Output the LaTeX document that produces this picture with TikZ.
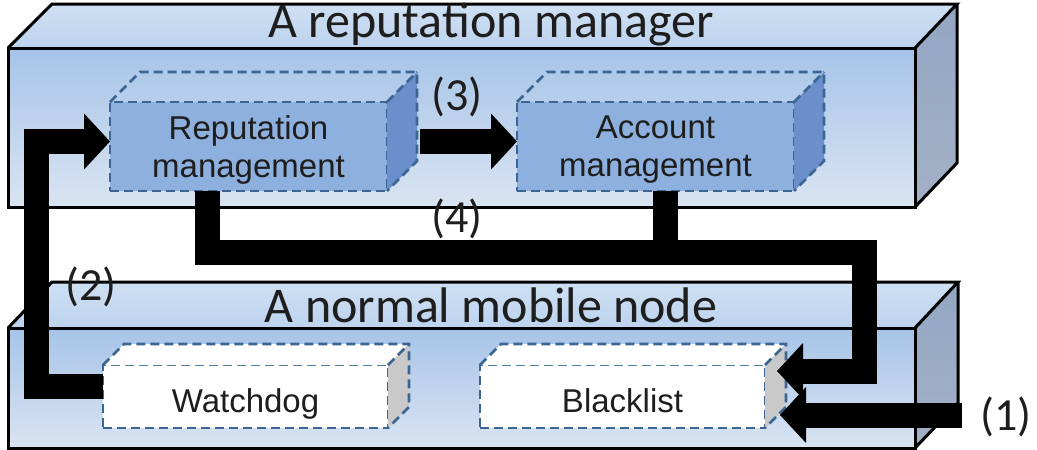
\documentclass[tikz,border=0pt]{standalone}
\usepackage{fontspec}
\setmainfont{Carlito}
\newfontfamily\boxfont{Liberation Sans}
\usetikzlibrary{arrows.meta,calc}

\definecolor{slabTopA}{HTML}{CFE0F3}
\definecolor{slabTopB}{HTML}{BCD2EE}
\definecolor{slabFrontA}{HTML}{A6C4E8}
\definecolor{slabFrontM}{HTML}{8BB0DC}
\definecolor{slabFrontB}{HTML}{DAE4F2}
\definecolor{slabSideA}{HTML}{93A6C3}
\definecolor{slabSideM}{HTML}{6A8BB4}
\definecolor{slabSideB}{HTML}{A3B1C6}
\definecolor{modFront}{HTML}{8EB0DE}
\definecolor{modSide}{HTML}{6B8FCB}
\definecolor{modEdge}{HTML}{3D6594}
\definecolor{plainSide}{HTML}{C9C9C9}
\definecolor{ink}{HTML}{1E1E1E}

% side and top faces of a dashed cuboid whose front face is node #1
\newcommand{\cubefaces}[4]{%
  \path[#3] (#1.north west) -- ++(#2,-#2) -- ($(#1.north east)+(#2,-#2)$) -- (#1.north east) -- cycle;
  \path[#4] (#1.north east) -- ++(#2,-#2) -- ($(#1.south east)+(#2,-#2)$) -- (#1.south east) -- cycle;
  \draw[modline] (#1.north west) -- ++(#2,-#2) -- ($(#1.north east)+(#2,-#2)$)
        -- ($(#1.south east)+(#2,-#2)$) -- (#1.south east);
  \draw[modline] (#1.north east) -- ++(#2,-#2);
}

\begin{document}
\begin{tikzpicture}[x=1pt,y=-1pt,
  slabline/.style={draw=black, line width=3pt, line join=miter},
  modline/.style={draw=modEdge, line width=2.8pt, dash pattern=on 9pt off 5pt},
  upmod/.style={rectangle, modline, fill=modFront, minimum width=277pt, minimum height=89pt,
                inner sep=0pt, outer sep=0pt, align=center, text=ink,
                text depth=0pt,
                font=\boxfont\fontsize{33}{38}\selectfont},
  lowmod/.style={rectangle, modline, fill=white, minimum width=285pt, minimum height=63pt,
                inner sep=0pt, outer sep=0pt, align=center, text=ink,
                text height=40pt, text depth=9pt,
                font=\boxfont\fontsize{33}{38}\selectfont},
  title/.style={anchor=base, text=ink, font=\fontsize{50}{60}\selectfont},
  step label/.style={anchor=base, text=ink, font=\fontsize{46}{55}\selectfont},
  flow/.style={line width=25pt, line join=miter, draw=black,
               -{Triangle[length=26pt,width=56pt,line width=0pt]}},
  bar/.style={line width=25pt, draw=black}
]
\useasboundingbox (0,0) rectangle (1037,450);

% ---- upper slab: the reputation manager ----
\shade[top color=slabTopA, bottom color=slabTopB] (8,48) -- (52,4) -- (957,4) -- (915,48) -- cycle;
\shade[top color=slabFrontA, middle color=slabFrontM, bottom color=slabFrontB] (8,48) rectangle (915,207);
\shade[top color=slabSideA, middle color=slabSideM, bottom color=slabSideB] (915,48) -- (957,4) -- (957,163) -- (915,207) -- cycle;
\draw[slabline] (8,48) rectangle (915,207);
\draw[slabline] (8,48) -- (52,4) -- (957,4) -- (915,48);
\draw[slabline] (957,4) -- (957,163) -- (915,207);
\node[title] (rmtitle) at (491,37) {A reputation manager};

% ---- lower slab: the normal mobile node ----
\shade[top color=slabTopA, bottom color=slabTopB] (8,328) -- (52,282) -- (958,282) -- (915,328) -- cycle;
\shade[top color=slabFrontA, middle color=slabFrontM, bottom color=slabFrontB] (8,328) rectangle (915,448);
\shade[top color=slabSideA, middle color=slabSideM, bottom color=slabSideB] (915,328) -- (958,282) -- (958,403) -- (915,448) -- cycle;
\draw[slabline] (8,328) rectangle (915,448);
\draw[slabline] (8,328) -- (52,282) -- (958,282) -- (915,328);
\draw[slabline] (958,282) -- (958,403) -- (915,448);
\node[title] (mntitle) at (491,322) {A normal mobile node};

% ---- modules ----
\node[upmod] (rep) at (248.5,146.5) {Reputation\\management};
\cubefaces{rep}{30}{fill=none}{fill=modSide}
\node[upmod] (acc) at (655.5,146.5) {Account\\management};
\cubefaces{acc}{30}{fill=none}{fill=modSide}
\node[lowmod] (wd) at (245.5,396.5) {Watchdog};
\cubefaces{wd}{21}{fill=white}{fill=plainSide}
\node[lowmod] (bl) at (622.5,396.5) {Blacklist};
\cubefaces{bl}{21}{fill=white}{fill=plainSide}

% ---- flows ----
\coordinate (in1) at (962,415);
\coordinate (tip1) at ([xshift=15pt,yshift=-18.5pt]bl.east);
\coordinate (tip4) at ([xshift=12pt,yshift=25.5pt]bl.east);
\coordinate (up2) at (36,141.5);
\coordinate (j4) at (864,252);

% (1) external report into the blacklist
\draw[flow] (in1) -- (tip1);
% (2) watchdog reports to reputation management
\draw[flow] ([yshift=10pt]wd.west) -| (up2) -- ([yshift=5pt]rep.west);
% (3) reputation management to account management
\draw[flow] ([xshift=33pt,yshift=5pt]rep.east) -- ([yshift=5pt]acc.west);
% (4) both managers update the blacklist
\draw[bar] ([xshift=10pt]acc.south) coordinate (a4) -- (a4 |- j4);
\draw[flow] ([xshift=-41pt]rep.south) |- (j4) |- (tip4);

% ---- step labels ----
\node[step label] (l1) at (1006,430) {(1)};
\node[step label] (l2) at (91,300) {(2)};
\node[step label] (l3) at (457,110) {(3)};
\node[step label] (l4) at (457,232) {(4)};
\end{tikzpicture}
\end{document}
